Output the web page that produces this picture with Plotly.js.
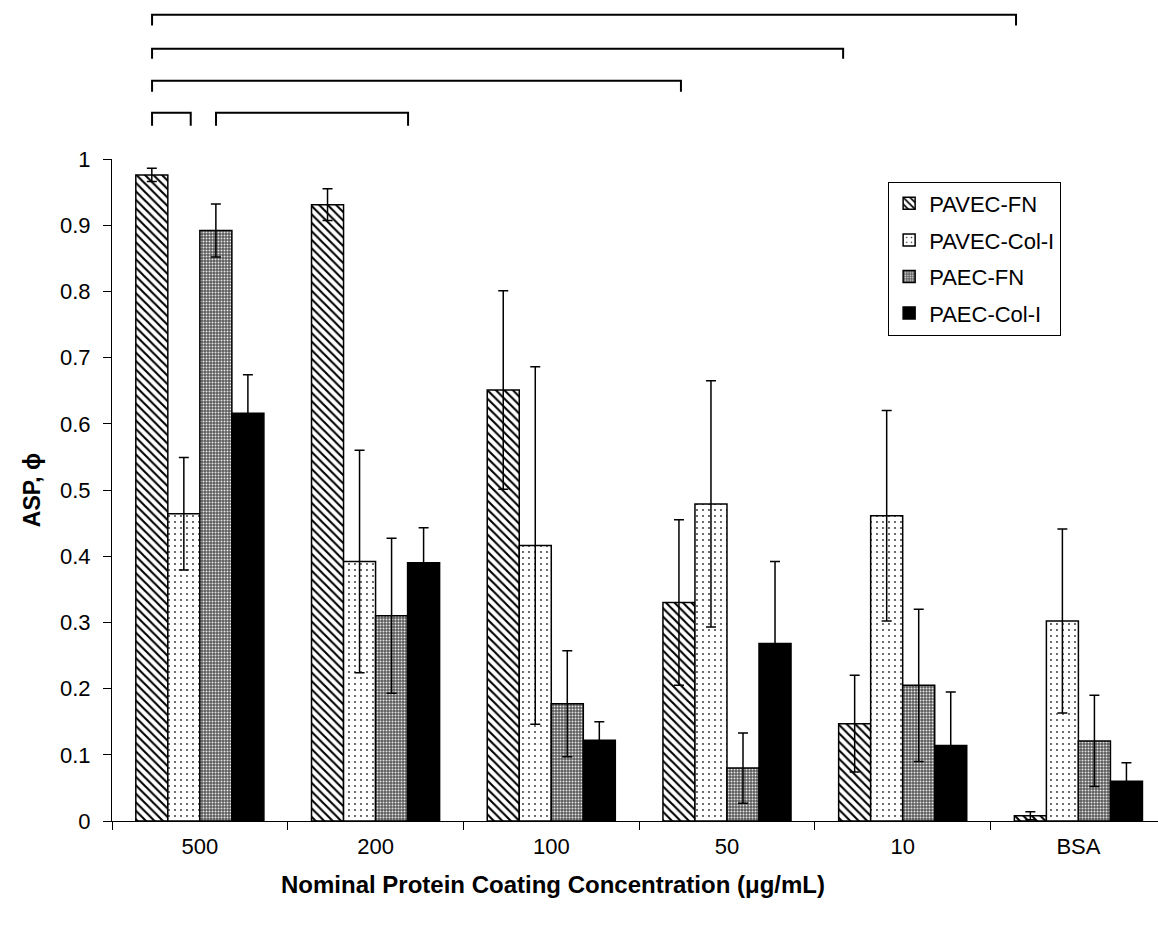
<!DOCTYPE html>
<html>
<head>
<meta charset="utf-8">
<script src="https://cdn.plot.ly/plotly-3.0.1.min.js"></script>
<style>html,body{margin:0;padding:0;background:#fff;}#chart{width:1158px;height:926px;}</style>
</head>
<body>
<div id="chart"></div>
<script>
// Categories (nominal protein coating concentration)
const categories = ['500', '200', '100', '50', '10', 'BSA'];

// Series values (ASP, phi) and symmetric error values
const pavecFN      = [0.976, 0.931, 0.651, 0.330, 0.147, 0.008];
const pavecFN_err  = [0.010, 0.024, 0.150, 0.125, 0.073, 0.006];
const pavecCol     = [0.464, 0.392, 0.416, 0.479, 0.461, 0.302];
const pavecCol_err = [0.085, 0.168, 0.270, 0.186, 0.159, 0.139];
const paecFN       = [0.892, 0.310, 0.177, 0.080, 0.205, 0.121];
const paecFN_err   = [0.040, 0.117, 0.080, 0.053, 0.115, 0.069];
const paecCol      = [0.616, 0.390, 0.122, 0.268, 0.114, 0.060];
const paecCol_err  = [0.058, 0.053, 0.028, 0.124, 0.081, 0.028];

const seriesNames = ['PAVEC-FN', 'PAVEC-Col-I', 'PAEC-FN', 'PAEC-Col-I'];

// Significance brackets: [start, end] in category units, level (paper y)
const brackets = [
  {x0: -0.272, x1: 4.645, y: 1.2180, yEnd: 1.2018},
  {x0: -0.272, x1: 3.661, y: 1.1666, yEnd: 1.1515},
  {x0: -0.272, x1: 2.738, y: 1.1183, yEnd: 1.1017},
  {x0: -0.272, x1: -0.052, y: 1.0699, yEnd: 1.0503},
  {x0: 0.092,  x1: 1.185, y: 1.0699, yEnd: 1.0503}
];

const errStyle = (arr) => ({type: 'data', array: arr, visible: true, color: '#000', thickness: 1.5, width: 5});
const outline = {color: '#000', width: 1.5};

const traces = [
  {
    type: 'bar', name: seriesNames[0], x: categories, y: pavecFN, legendgroup: 'a',
    error_y: errStyle(pavecFN_err),
    marker: {color: '#fff', line: outline,
      pattern: {shape: '\\', fgcolor: '#000', bgcolor: '#fff', size: 6, solidity: 0.35}}
  },
  {
    type: 'bar', name: seriesNames[1], x: categories, y: pavecCol, legendgroup: 'b',
    error_y: errStyle(pavecCol_err),
    marker: {color: '#fff', line: outline,
      pattern: {shape: '.', fgcolor: '#333', bgcolor: '#fff', size: 6, solidity: 0.08}}
  },
  {
    type: 'bar', name: seriesNames[2], x: categories, y: paecFN, legendgroup: 'c',
    error_y: errStyle(paecFN_err),
    marker: {color: '#777', line: outline,
      pattern: {shape: '.', fgcolor: '#e6e6e6', bgcolor: '#5a5a5a', size: 3, solidity: 0.35}}
  },
  {
    type: 'bar', name: seriesNames[3], x: categories, y: paecCol, legendgroup: 'd',
    error_y: errStyle(paecCol_err),
    marker: {color: '#000', line: outline}
  }
];

const shapes = brackets.map(b => ({
  type: 'path', xref: 'x', yref: 'paper',
  path: `M ${b.x0},${b.yEnd} L ${b.x0},${b.y} L ${b.x1},${b.y} L ${b.x1},${b.yEnd}`,
  line: {color: '#000', width: 2}
}));

const FONT = 'Liberation Sans, Arial, sans-serif';

const layout = {
  width: 1158, height: 926,
  margin: {l: 112, r: 0, t: 159, b: 105, pad: 0},
  paper_bgcolor: '#fff', plot_bgcolor: '#fff',
  barmode: 'group', bargap: 0.271, bargroupgap: 0,
  showlegend: true,
  font: {family: FONT, color: '#000', size: 22},
  xaxis: {
    type: 'category', range: [-0.5, 5.453],
    showline: true, linecolor: '#000', linewidth: 1,
    showgrid: false, zeroline: false,
    ticks: 'outside', ticklen: 8, tickcolor: '#000', tickwidth: 1,
    tickson: 'boundaries',
    tickfont: {family: FONT, size: 22, color: '#000'},
    ticklabelstandoff: 6
  },
  yaxis: {
    range: [0, 1], dtick: 0.1, tick0: 0,
    showline: true, linecolor: '#000', linewidth: 1,
    showgrid: false, zeroline: false,
    ticks: 'outside', ticklen: 8, tickcolor: '#000', tickwidth: 1,
    tickfont: {family: FONT, size: 22, color: '#000'},
    ticklabelstandoff: 8,
    title: {text: 'ASP, ϕ', font: {family: FONT, size: 23, color: '#000', weight: 'bold'}, standoff: 12}
  },
  legend: {
    x: 0.742, y: 0.966, xanchor: 'left', yanchor: 'top',
    bgcolor: '#fff', bordercolor: '#000', borderwidth: 1,
    font: {family: FONT, size: 22, color: '#000'},
    traceorder: 'grouped', tracegroupgap: 5,
    itemwidth: 30
  },
  annotations: [{
    text: 'Nominal Protein Coating Concentration (μg/mL)',
    xref: 'paper', yref: 'paper', x: 0.4216, y: -0.0962,
    xanchor: 'center', yanchor: 'middle', showarrow: false,
    font: {family: FONT, size: 24, color: '#000', weight: 'bold'}
  }],
  shapes: shapes
};

Plotly.newPlot('chart', traces, layout, {displayModeBar: false, staticPlot: true});
</script>
</body>
</html>
